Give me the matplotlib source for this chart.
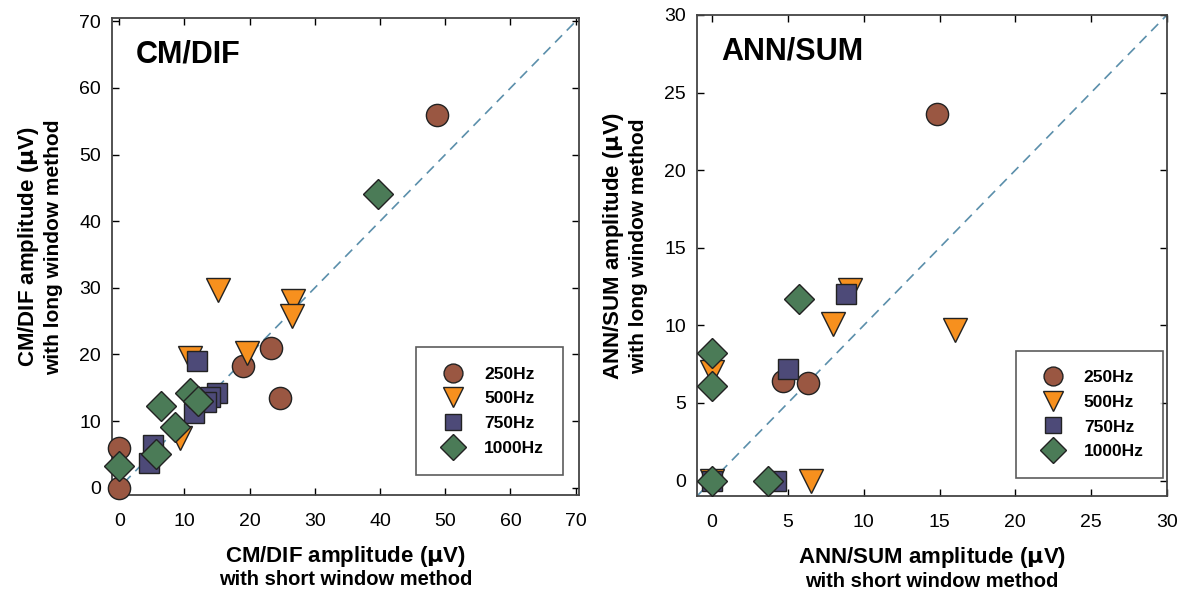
import numpy as np
import matplotlib.pyplot as plt

plt.rcParams['font.family'] = ['Liberation Sans', 'DejaVu Sans']

# CM/DIF panel (short window, long window)
cm_250_x = [0, 0, 23.3, 24.7, 19.0, 48.8]
cm_250_y = [0, 6.0, 21.0, 13.4, 18.3, 56.0]
cm_500_x = [15.2, 26.7, 26.5, 10.9, 19.6, 9.4]
cm_500_y = [29.7, 28.0, 25.8, 19.5, 20.2, 7.5]
cm_750_x = [12.0, 15.0, 14.0, 13.3, 11.5, 5.2, 4.5]
cm_750_y = [19.0, 14.2, 13.6, 12.8, 11.2, 6.4, 3.7]
cm_1000_x = [0, 5.7, 8.6, 6.4, 10.8, 12.1, 39.7]
cm_1000_y = [3.3, 5.1, 9.1, 12.2, 14.2, 13.0, 44.1]

# ANN/SUM panel
ann_250_x = [14.8, 4.7, 6.3]
ann_250_y = [23.6, 6.4, 6.3]
ann_500_x = [8.0, 9.1, 16.0, 0, 6.5, 0]
ann_500_y = [10.1, 12.3, 9.7, 7.0, 0, 0]
ann_750_x = [8.8, 5.0, 4.2, 0]
ann_750_y = [12.0, 7.2, 0, 0]
ann_1000_x = [5.7, 0, 0, 0, 3.7]
ann_1000_y = [11.7, 8.2, 6.1, 0, 0]

labels = ['250Hz', '500Hz', '750Hz', '1000Hz']
colors = ['#9a5742', '#f7901e', '#4d4a78', '#4b7b57']
markers = ['o', 'v', 's', 'D']
sizes = [16, 17, 14, 15]

fig = plt.figure(figsize=(11.93, 5.97), dpi=100)
ax1 = fig.add_axes([0.0939, 0.1709, 0.3914, 0.7989])
ax2 = fig.add_axes([0.5842, 0.169, 0.394, 0.806])

def panel(ax, data, lim, ticks, name, legpos):
    ax.plot([lim[0], lim[1]], [lim[0], lim[1]], ls=(0, (6, 4)), color='#5b8fab', lw=1.2, zorder=1)
    for (x, y), lab, c, m, s in zip(data, labels, colors, markers, sizes):
        ax.plot(x, y, ls='none', marker=m, ms=s, mfc=c, mec='#222222', mew=1.0,
                label=lab, zorder=3, clip_on=False)
    ax.set_xlim(lim)
    ax.set_ylim(lim)
    ax.set_xticks(ticks)
    ax.set_yticks(ticks)
    ax.tick_params(direction='in', top=True, right=True, labelsize=14, length=5, width=1)
    ax.tick_params(axis='x', pad=13)
    ax.tick_params(axis='y', pad=8)
    for sp in ax.spines.values():
        sp.set_linewidth(1.3)
        sp.set_color('#444444')
    ax.text(0.051, 0.955, name, transform=ax.transAxes, fontsize=22, fontweight='bold', va='top')
    leg = ax.legend(loc='lower right', bbox_to_anchor=legpos, frameon=True, fancybox=False,
                    edgecolor='#333333', prop={'weight': 'bold', 'size': 12.5}, borderpad=1.1,
                    labelspacing=0.55, handletextpad=0.8, markerscale=0.85, borderaxespad=0)
    leg.get_frame().set_linewidth(1.2)

panel(ax1, [(cm_250_x, cm_250_y), (cm_500_x, cm_500_y), (cm_750_x, cm_750_y), (cm_1000_x, cm_1000_y)],
      (-1.1, 70.5), range(0, 71, 10), 'CM/DIF', (0.966, 0.042))
panel(ax2, [(ann_250_x, ann_250_y), (ann_500_x, ann_500_y), (ann_750_x, ann_750_y), (ann_1000_x, ann_1000_y)],
      (-1, 30), range(0, 31, 5), 'ANN/SUM', (0.991, 0.037))

for ax, nm in [(ax1, 'CM/DIF'), (ax2, 'ANN/SUM')]:
    ax.text(0.5, -0.128, nm + ' amplitude ($\\mathbf{\\mu}$V)', transform=ax.transAxes,
            ha='center', va='center', fontsize=16, fontweight='bold')
    ax.text(0.5, -0.178, 'with short window method', transform=ax.transAxes,
            ha='center', va='center', fontsize=14.5, fontweight='bold')
    ax.text(-0.178, 0.52, nm + ' amplitude ($\\mathbf{\\mu}$V)', transform=ax.transAxes,
            ha='center', va='center', fontsize=16, fontweight='bold', rotation=90)
    ax.text(-0.125, 0.52, 'with long window method', transform=ax.transAxes,
            ha='center', va='center', fontsize=15, fontweight='bold', rotation=90)

fig.savefig('out.png', dpi=100)
